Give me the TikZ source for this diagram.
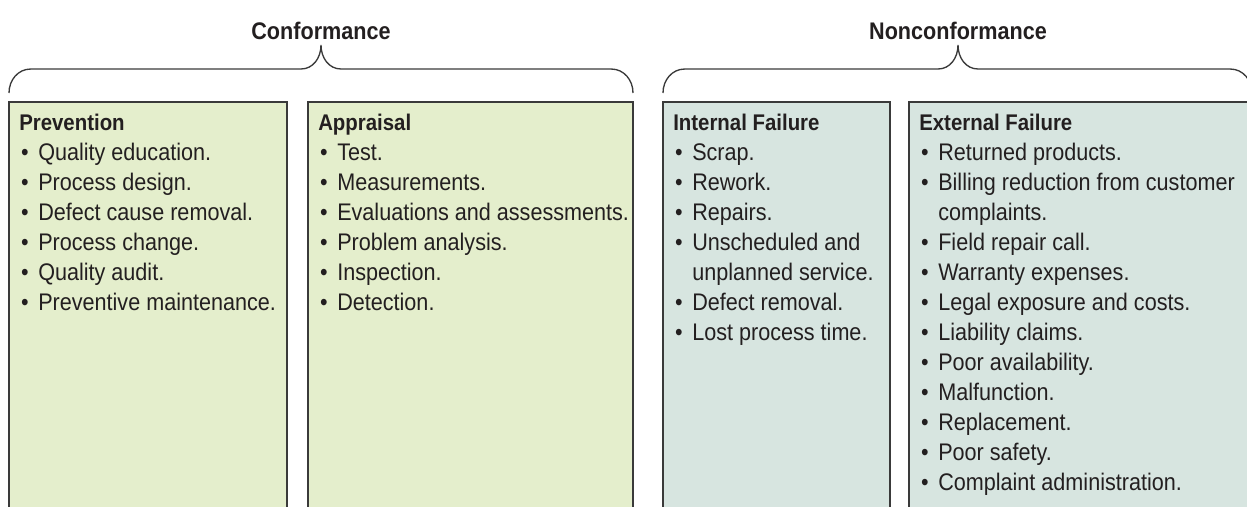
\documentclass[tikz,border=0pt]{standalone}
\usepackage{fontspec}
\setmainfont{Liberation Sans}[FakeStretch=0.9]
\definecolor{txt}{HTML}{231F20}
\definecolor{edge}{HTML}{3A3A3A}
\definecolor{gfill}{HTML}{E4EECC}
\definecolor{tfill}{HTML}{D7E5E0}
\newcommand\mybrace[3]{%
  \draw[brace] (#1,93) .. controls (#1,80) and (#1+9,69) .. (#1+22,69)
    -- (#3-20,69) .. controls (#3-8,69) and (#3,58) .. (#3,45)
    .. controls (#3,58) and (#3+8,69) .. (#3+20,69)
    -- (#2-22,69) .. controls (#2-9,69) and (#2,80) .. (#2,93);}
\newcommand\mylist[3]{% #1 box left x, #2 name prefix, #3 list b/text
  \foreach \b/\t [count=\i] in {#3} {
    \ifnum\b=1
      \node[bul] (#2b\i) at (#1+16,160+30*\i-30) {•};
    \fi
    \node[itm] (#2t\i) at (#1+29,160+30*\i-30) {\t};
  }}
\begin{document}
\begin{tikzpicture}[x=0.75pt,y=-0.75pt,
  lbl/.style={font=\fontsize{18}{20}\selectfont\bfseries, text=txt, inner sep=0pt, anchor=base},
  head/.style={font=\fontsize{17}{20}\selectfont\bfseries, text=txt, inner sep=0pt, anchor=base west},
  itm/.style={font=\fontsize{18}{20}\selectfont, text=txt, inner sep=0pt, anchor=base west},
  bul/.style={font=\fontsize{18}{20}\selectfont, text=txt, inner sep=0pt, anchor=base},
  gbox/.style={draw=edge, line width=1.1pt, fill=gfill},
  tbox/.style={draw=edge, line width=1.1pt, fill=tfill},
  brace/.style={draw=edge, line width=1pt}]
\useasboundingbox (0,0) rectangle (1247,507);
\clip (0,0) rectangle (1247,507);
% top labels and braces
\node[lbl] (conf) at (321,39) {Conformance};
\node[lbl] (nonconf) at (958,39) {Nonconformance};
\mybrace{9}{633}{321}
\mybrace{663}{1252}{958}
% boxes
\draw[gbox] (9,102) rectangle (287,520);
\draw[gbox] (308,102) rectangle (633,520);
\draw[tbox] (663,102) rectangle (890,520);
\draw[tbox] (909,102) rectangle (1270,520);
% headings
\node[head] (hprev) at (19,130) {Prevention};
\node[head] (happ) at (318,130) {Appraisal};
\node[head] (hint) at (673,130) {Internal Failure};
\node[head] (hext) at (919,130) {External Failure};
% lists
\mylist{9}{p}{1/Quality education., 1/Process design., 1/Defect cause removal., 1/Process change., 1/Quality audit., 1/Preventive maintenance.}
\mylist{308}{a}{1/Test., 1/Measurements., 1/Evaluations and assessments., 1/Problem analysis., 1/Inspection., 1/Detection.}
\mylist{663}{i}{1/Scrap., 1/Rework., 1/Repairs., 1/Unscheduled and, 0/unplanned service., 1/Defect removal., 1/Lost process time.}
\mylist{909}{e}{1/Returned products., 1/Billing reduction from customer, 0/complaints., 1/Field repair call., 1/Warranty expenses., 1/Legal exposure and costs., 1/Liability claims., 1/Poor availability., 1/Malfunction., 1/Replacement., 1/Poor safety., 1/Complaint administration.}
\end{tikzpicture}
\end{document}
